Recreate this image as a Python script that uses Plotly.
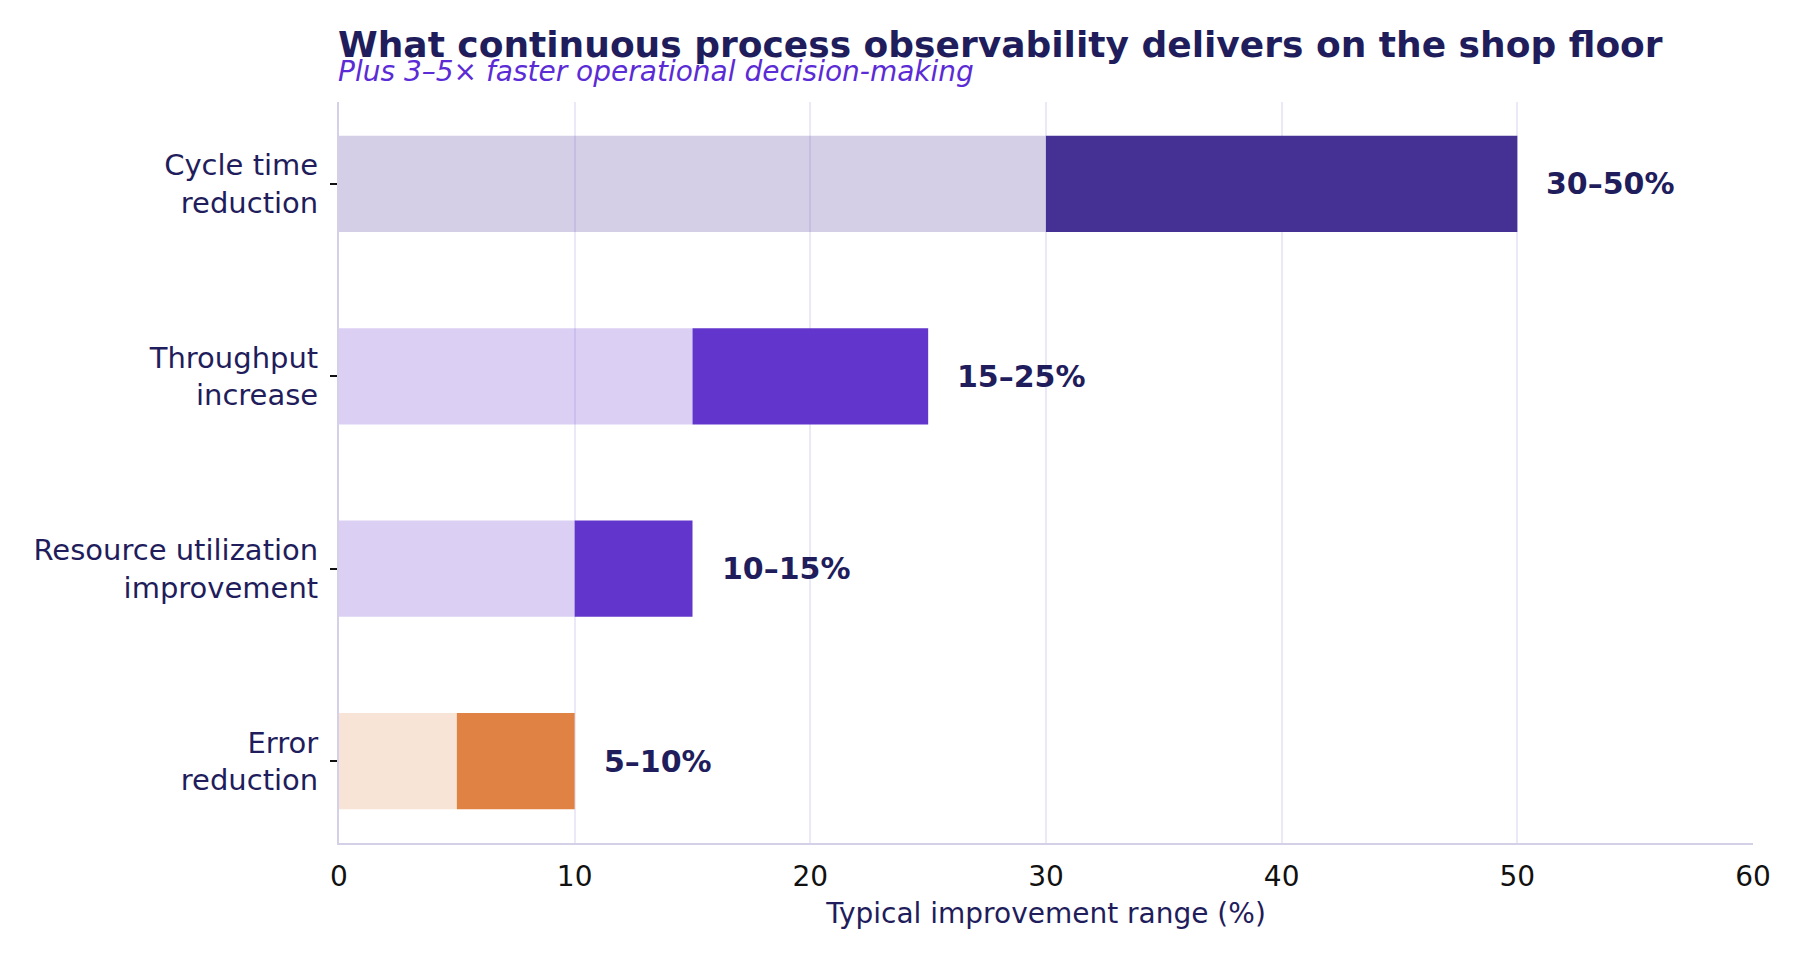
import plotly.graph_objects as go

categories = ["Cycle time<br>reduction", "Throughput<br>increase",
              "Resource utilization<br>improvement", "Error<br>reduction"]
low_values = [30, 15, 10, 5]
high_values = [50, 25, 15, 10]
range_labels = ["30–50%", "15–25%", "10–15%", "5–10%"]
dark_colors = ["#453094", "#6236cc", "#6236cc", "#e08243"]
light_colors = ["rgba(69,48,148,0.23)", "rgba(98,54,204,0.23)",
                "rgba(98,54,204,0.23)", "rgba(224,130,67,0.22)"]
x_ticks = [0, 10, 20, 30, 40, 50, 60]

NAVY = "#1f1d5c"
FONT = "DejaVu Sans"

fig = go.Figure()
fig.add_trace(go.Bar(
    y=categories, x=low_values, base=[0] * len(low_values), orientation="h",
    width=0.5, marker=dict(color=light_colors, line=dict(width=0)),
    hoverinfo="skip", showlegend=False))
fig.add_trace(go.Bar(
    y=categories, x=[h - l for h, l in zip(high_values, low_values)],
    base=low_values, orientation="h",
    width=0.5, marker=dict(color=dark_colors, line=dict(width=0)),
    hoverinfo="skip", showlegend=False))

for cat, hi, lab in zip(categories, high_values, range_labels):
    fig.add_annotation(x=hi, y=cat, text=f"<b>{lab}</b>", showarrow=False,
                       xanchor="left", yanchor="middle", xshift=27,
                       font=dict(family=FONT, size=30, color=NAVY))

fig.add_annotation(xref="paper", yref="paper", x=0, y=1.0776, xanchor="left",
                   yanchor="middle", showarrow=False, xshift=-3,
                   text="<b>What continuous process observability delivers on the shop floor</b>",
                   font=dict(family=FONT, size=36, color=NAVY))
fig.add_annotation(xref="paper", yref="paper", x=0, y=1.0405, xanchor="left",
                   yanchor="middle", showarrow=False, xshift=-3,
                   text="<i>Plus 3–5× faster operational decision-making</i>",
                   font=dict(family=FONT, size=28, color="#5b2bd6"))

fig.update_layout(
    width=1800, height=960,
    margin=dict(l=331, r=55, t=94, b=125),
    paper_bgcolor="white", plot_bgcolor="white",
    barmode="overlay",
    font=dict(family=FONT, size=28, color=NAVY),
    xaxis=dict(range=[0, 60], tickvals=x_ticks, ticktext=[str(v) for v in x_ticks],
               showgrid=True, gridcolor="#ebe9f7", gridwidth=1.5,
               zeroline=False, showline=True, linecolor="#d4d0e8", linewidth=2,
               ticks="", ticklabelstandoff=7,
               tickfont=dict(family=FONT, size=28, color="#111111"),
               title=dict(text="Typical improvement range (%)", standoff=12,
                          font=dict(family=FONT, size=28, color=NAVY))),
    yaxis=dict(type="category", categoryorder="array", categoryarray=categories,
               range=[3.425, -0.425], showgrid=False, zeroline=False,
               showline=True, linecolor="#d4d0e8", linewidth=2,
               ticks="outside", ticklen=7, tickwidth=1.5, tickcolor="#111111",
               ticklabelstandoff=6,
               tickfont=dict(family=FONT, size=29, color=NAVY)),
)

fig.write_html("out.html")
